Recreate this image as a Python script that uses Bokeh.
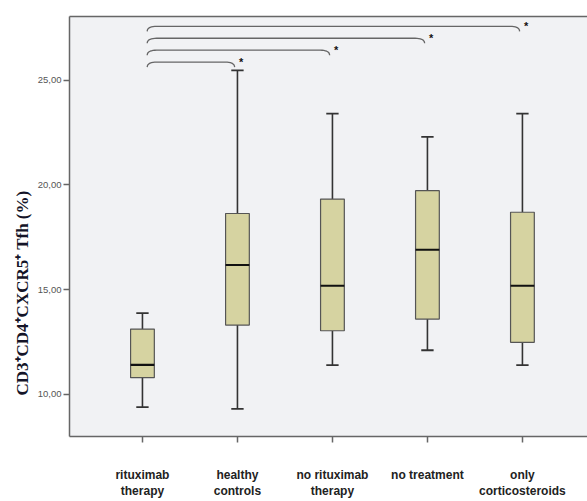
import numpy as np
from bokeh.plotting import figure
from bokeh.models import FixedTicker, LinearAxis, Range1d, Title, ColumnDataSource
from bokeh.core.properties import value
from bokeh.embed import file_html
from bokeh.resources import INLINE

# ---- data ----
groups = ["rituximab\ntherapy", "healthy\ncontrols", "no rituximab\ntherapy",
          "no treatment", "only\ncorticosteroids"]
whisker_low = [9.38, 9.30, 11.39, 12.10, 11.39]
q1 = [10.79, 13.30, 13.03, 13.59, 12.48]
median = [11.40, 16.17, 15.18, 16.90, 15.18]
q3 = [13.11, 18.63, 19.32, 19.72, 18.69]
whisker_high = [13.87, 25.47, 23.40, 22.29, 23.40]

y_ticks = [10, 15, 20, 25]
y_tick_labels = ["10,00", "15,00", "20,00", "25,00"]

bracket_from = [1, 1, 1, 1]
bracket_to = [2, 3, 4, 5]
bracket_level = [25.86, 26.43, 27.00, 27.57]
bracket_mark = ["*", "*", "*", "*"]

y_title = "CD3\u207aCD4\u207aCXCR5\u207a Tfh  (%)"

# ---- figure ----
pos = list(range(1, len(groups) + 1))
p = figure(width=587, height=501,
           x_range=Range1d(0.232, 5.685), y_range=Range1d(7.98, 28.04),
           output_backend="svg", toolbar_location=None,
           min_border_left=69, min_border_right=0, min_border_top=16,
           min_border_bottom=62)
p.outline_line_color = None
p.grid.visible = False
p.background_fill_color = "#f1f2f4"
p.border_fill_color = "white"

# axes
p.yaxis.ticker = FixedTicker(ticks=y_ticks)
p.yaxis.major_label_overrides = {t: l for t, l in zip(y_ticks, y_tick_labels)}
p.xaxis.ticker = FixedTicker(ticks=pos)
p.xaxis.major_label_overrides = {i: g for i, g in zip(pos, groups)}
for ax in (p.xaxis[0], p.yaxis[0]):
    ax.axis_line_color = "#666666"
    ax.axis_line_width = 1.5
    ax.major_tick_line_color = "#666666"
    ax.major_tick_line_width = 1.5
    ax.major_tick_in = 0
    ax.minor_tick_line_color = None
    ax.major_label_text_font = "Liberation Sans"
p.yaxis.major_tick_out = 6
p.yaxis.major_label_standoff = 2
p.yaxis.major_label_text_font_size = "9.5px"
p.yaxis.major_label_text_color = "#555555"
p.xaxis.major_tick_out = 6
p.xaxis.major_label_standoff = 25
p.xaxis.major_label_text_font_size = "12px"
p.xaxis.major_label_text_font_style = "bold"
p.xaxis.major_label_text_color = "#222222"

top = LinearAxis(ticker=FixedTicker(ticks=[]), major_label_text_font_size="0px",
                 major_tick_out=0, major_tick_in=0, minor_tick_out=0, minor_tick_in=0,
                 major_label_standoff=0, axis_line_color="#666666", axis_line_width=1.5)
p.add_layout(top, "above")

# boxes
src = ColumnDataSource(dict(x=pos, lo=whisker_low, q1=q1, med=median, q3=q3, hi=whisker_high))
bw = 0.25
cw = 0.13
p.segment(x0="x", y0="q3", x1="x", y1="hi", source=src, line_color="#333333", line_width=1.6)
p.segment(x0="x", y0="lo", x1="x", y1="q1", source=src, line_color="#333333", line_width=1.6)
xs = np.array(pos, dtype=float)
p.segment(x0=xs - cw / 2, y0=whisker_high, x1=xs + cw / 2, y1=whisker_high,
          line_color="#333333", line_width=1.8)
p.segment(x0=xs - cw / 2, y0=whisker_low, x1=xs + cw / 2, y1=whisker_low,
          line_color="#333333", line_width=1.8)
p.vbar(x="x", bottom="q1", top="q3", width=bw, source=src,
       fill_color="#d6d3a1", line_color="#555555", line_width=1.2)
p.segment(x0=xs - bw / 2, y0=median, x1=xs + bw / 2, y1=median,
          line_color="#111111", line_width=2.2)

# significance brackets
bx, by = [], []
d, cx = 0.24, 0.1
t = np.linspace(0, 1, 10)
for f, to, h in zip(bracket_from, bracket_to, bracket_level):
    x0 = f + 0.05
    x1 = to - 0.03
    lx = (1 - t) ** 2 * x0 + 2 * (1 - t) * t * x0 + t ** 2 * (x0 + cx)
    ly = (1 - t) ** 2 * (h - d) + 2 * (1 - t) * t * h + t ** 2 * h
    rx = (1 - t) ** 2 * (x1 - cx) + 2 * (1 - t) * t * x1 + t ** 2 * x1
    ry = (1 - t) ** 2 * h + 2 * (1 - t) * t * h + t ** 2 * (h - d)
    bx.append(list(lx) + list(rx))
    by.append(list(ly) + list(ry))
p.multi_line(xs=bx, ys=by, line_color="#666666", line_width=1.3)
p.text(x=[v + 0.04 for v in bracket_to], y=[h + 0.02 for h in bracket_level],
       text=bracket_mark, text_font=value("Liberation Sans"), text_font_style="bold",
       text_font_size="11px", text_color="#111111", text_align="center",
       text_baseline="middle")

# y axis title
p.add_layout(Title(text=y_title, align="left", offset=41, standoff=5,
                   text_font="Liberation Serif", text_font_style="bold",
                   text_font_size="17px", text_color="#141428"), "left")

open("out.html", "w").write(file_html(p, INLINE))
